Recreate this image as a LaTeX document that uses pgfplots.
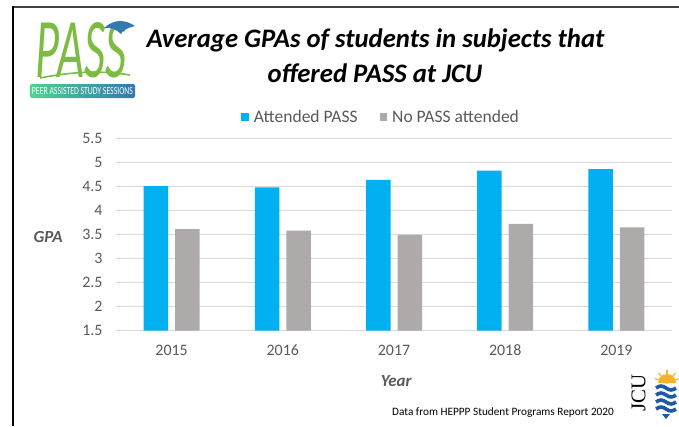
\documentclass[border=0pt]{standalone}
\usepackage{fontspec}
\setmainfont{Carlito}
\newfontfamily\serifjcu{Liberation Serif}
\usepackage{pgfplots}
\pgfplotsset{compat=1.18}
\definecolor{passblue}{RGB}{0,176,240}
\definecolor{nogray}{RGB}{174,170,170}
\definecolor{gridgray}{RGB}{217,217,217}
\definecolor{txtgray}{RGB}{89,89,89}
\definecolor{logogreen}{RGB}{125,187,66}
\definecolor{logoblue}{RGB}{52,120,178}
\definecolor{jcublue}{RGB}{30,90,170}
\definecolor{jcusun}{RGB}{245,180,40}
\begin{document}
\begin{tikzpicture}[x=1bp,y=1bp]
\begin{scope}[shift={(-116bp,-95.5bp)}]
\path[use as bounding box] (0,0) rectangle (679,426);
% frame
\draw[line width=2bp, black!75] (12,419) -- (679,419);
\draw[line width=2.3bp, black] (12.8,420) -- (12.8,0);

% title
\node[anchor=base, font=\fontsize{26.8}{27}\selectfont\bfseries\itshape] at (375.5,379)
  {Average GPAs of students in subjects that};
\node[anchor=base, font=\fontsize{26.8}{27}\selectfont\bfseries\itshape] at (375,344)
  {offered PASS at JCU};

% source note
\node[font=\fontsize{11.3}{11.3}\selectfont] at (503,13) {Data from HEPPP Student Programs Report 2020};

% PASS logo (approximation)
\shade[left color=logogreen!60!cyan, right color=logoblue, rounded corners=2bp] (30,328) rectangle (135,342);
\node[text=white, inner sep=0pt] at (82.5,335) {\resizebox{101bp}{7bp}{PEER ASSISTED STUDY SESSIONS}};
\node[text=logogreen, inner sep=0pt, font=\fontsize{50}{50}\selectfont\itshape] at (81,376) {\resizebox{90bp}{55bp}{PASS}};
\draw[logogreen, line width=1.6bp] (40,348) .. controls (70,354) and (100,356) .. (130,351);
\fill[logoblue] (104,398) .. controls (115,408) and (126,406) .. (135,400)
  .. controls (128,398) and (122,396) .. (121,392) .. controls (116,397) and (110,399) .. (104,398);

% JCU logo (approximation)
\node[rotate=90, font=\fontsize{21}{21}\selectfont\serifjcu] at (638.5,33) {JCU};
\fill[jcusun] (658,43) arc[start angle=180, end angle=0, radius=9];
\foreach \a in {20,50,90,130,160} {\draw[jcusun, line width=1.2bp] (667,43) -- ++(\a:13);}
\foreach \i in {0,1,2,3} {
  \draw[jcublue, line width=3.6bp] (656,{38-\i*7}) sin (661,{40-\i*7}) cos (666,{38-\i*7}) sin (671,{36-\i*7}) cos (676,{38-\i*7});
}
\fill[jcublue] (662,12) -- (670,12) -- (666,7) -- cycle;
\end{scope}

\begin{axis}[
  at={(0,0)}, anchor=south west,
  scale only axis, width=556bp, height=192bp,
  xmin=-0.5, xmax=4.5, ymin=1.5, ymax=5.5,
  ybar=7bp, bar width=24.5bp,
  xtick={0,1,2,3,4}, xticklabels={2015,2016,2017,2018,2019},
  ytick={1.5,2,2.5,3,3.5,4,4.5,5,5.5},
  yticklabels={1.5,2,2.5,3,3.5,4,4.5,5,5.5},
  major tick length=0pt,
  axis line style={draw=none},
  ymajorgrids, grid style={draw=gridgray, line width=0.9bp},
  /pgf/number format/assume math mode=true,
  ticklabel style={font=\fontsize{16}{16}\selectfont, text=txtgray},
  yticklabel style={xshift=-10bp},
  xticklabel style={yshift=-11bp},
  xlabel={Year},
  xlabel style={at={(axis description cs:0.504,-0.263)}, anchor=center,
    font=\fontsize{17}{17}\selectfont\bfseries\itshape, text=txtgray},
  ylabel={GPA},
  ylabel style={rotate=-90, at={(axis description cs:-0.122,0.487)}, anchor=center,
    font=\fontsize{17}{17}\selectfont\bfseries\itshape, text=txtgray},
  legend style={at={(0.477,1.112)}, anchor=center, draw=none, fill=none,
    legend columns=2, font=\fontsize{17.6}{17.6}\selectfont, text=txtgray,
    /tikz/every even column/.append style={column sep=20bp}},
  legend image code/.code={\fill[#1] (0bp,-3.6bp) rectangle (7.2bp,3.6bp); \path (0bp,0bp) -- (10.5bp,0bp);},
]
\addplot[fill=passblue, draw=none] coordinates {(0,4.51) (1,4.48) (2,4.64) (3,4.83) (4,4.86)};
\addplot[fill=nogray, draw=none] coordinates {(0,3.61) (1,3.58) (2,3.49) (3,3.72) (4,3.65)};
\legend{Attended PASS, No PASS attended}
\end{axis}
\end{tikzpicture}
\end{document}
